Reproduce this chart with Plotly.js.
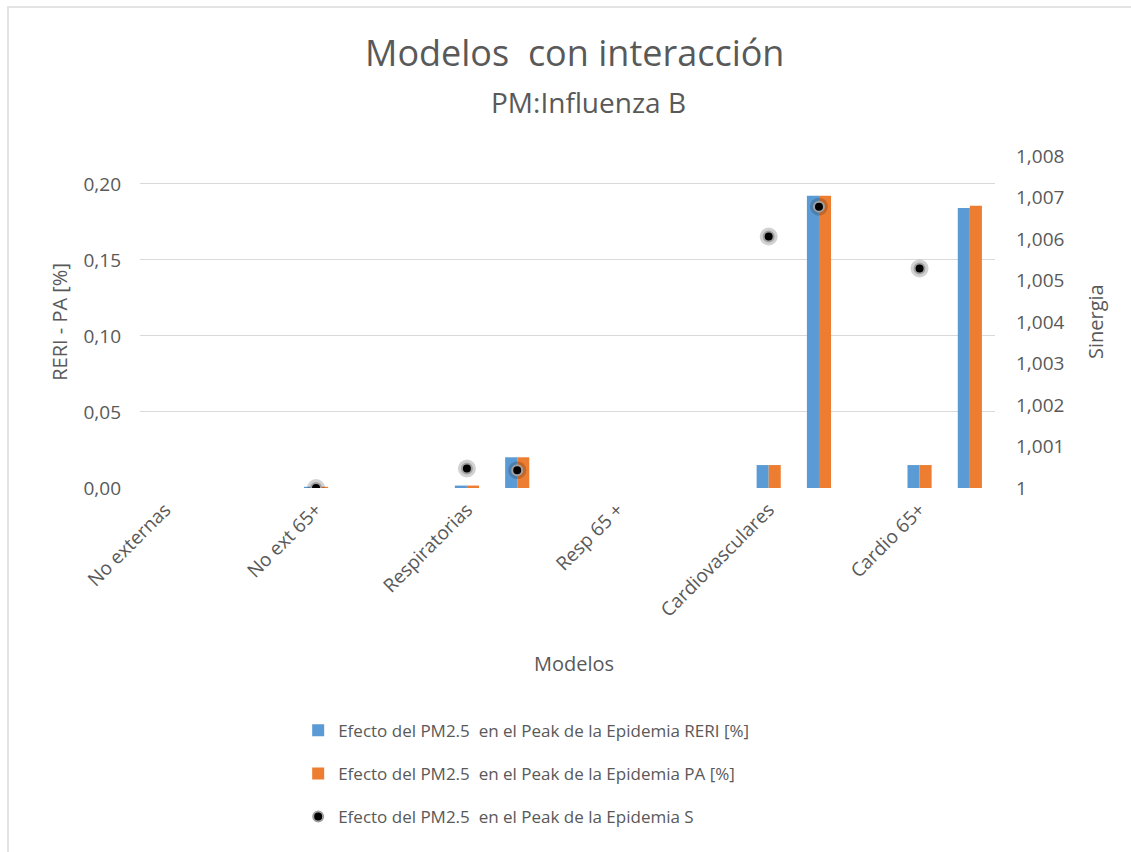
<!DOCTYPE html>
<html>
<head>
<meta charset="utf-8">
<script src="https://cdn.plot.ly/plotly-3.0.1.min.js"></script>
<style>
    html, body { margin: 0; background: #fff; overflow: hidden; }
    #chart { width: 1131px; height: 852px; }
</style>
</head>
<body>
<div id="chart"></div>
<script>
// 17 filas de la tabla de Excel, una etiqueta cada 3 filas
const modelos = ["No externas", "No ext 65+", "Respiratorias", "Resp 65 +", "Cardiovasculares", "Cardio 65+"];
const filasPorModelo = 3;
const nFilas = 17;

const reri = [null, null, null, 0.0008, null, null, 0.0016, 0.0202, null, null, null, null, 0.0151, 0.1922, null, 0.0151, 0.1842];
const pa = [null, null, null, 0.0008, null, null, 0.0016, 0.0202, null, null, null, null, 0.0151, 0.1922, null, 0.0151, 0.1857];
const sinergia = [null, null, null, 1.0000, null, null, 1.00047, 1.00043, null, null, null, null, 1.00606, 1.00678, null, 1.00529, null];

const nombreReri = "Efecto del PM2.5  en el Peak de la Epidemia RERI [%]";
const nombrePa = "Efecto del PM2.5  en el Peak de la Epidemia PA [%]";
const nombreS = "Efecto del PM2.5  en el Peak de la Epidemia S";

const gris = "#595959";
const fuente = "'Open Sans', sans-serif";

displayChart();

function displayChart() {
    const filas = Array.from({ length: nFilas }, (_, i) => i);
    const posEtiquetas = modelos.map((_, i) => i * filasPorModelo);

    const chartData = [
        {
            x: filas,
            y: reri,
            type: "bar",
            name: nombreReri,
            legendgroup: "reri",
            marker: { color: "#5B9BD5" },
        },
        {
            x: filas,
            y: pa,
            type: "bar",
            name: nombrePa,
            legendgroup: "pa",
            marker: { color: "#ED7D31" },
        },
        {
            // halo gris detras de los puntos
            x: filas,
            y: sinergia,
            yaxis: "y2",
            type: "scatter",
            mode: "markers",
            legendgroup: "s",
            showlegend: false,
            hoverinfo: "skip",
            marker: { size: 18, color: "rgba(0,0,0,0.18)", line: { width: 0 } },
        },
        {
            x: filas,
            y: sinergia,
            yaxis: "y2",
            type: "scatter",
            mode: "markers",
            name: nombreS,
            legendgroup: "s",
            marker: { size: 10, color: "#000", line: { color: "#a0a0a0", width: 2 } },
        },
    ];

    const layout = {
        width: 1131,
        height: 852,
        separators: ",.",
        paper_bgcolor: "#fff",
        plot_bgcolor: "#fff",
        font: { family: fuente, color: gris, size: 19 },
        margin: { l: 140, r: 136, t: 156, b: 364 },
        barmode: "group",
        bargap: 0.52,
        bargroupgap: 0,
        xaxis: {
            range: [-0.5, nFilas - 0.5],
            tickvals: posEtiquetas,
            ticktext: modelos,
            tickangle: -45,
            ticks: "",
            ticklabelstandoff: 6,
            tickfont: { size: 19, color: gris },
            showgrid: false,
            zeroline: false,
            showline: false,
        },
        yaxis: {
            range: [0, 0.2184],
            tick0: 0,
            dtick: 0.05,
            tickformat: ".2f",
            ticks: "",
            ticklabelstandoff: 18,
            tickfont: { size: 19, color: gris },
            gridcolor: "#d9d9d9",
            gridwidth: 1,
            zeroline: false,
            showline: false,
        },
        yaxis2: {
            overlaying: "y",
            side: "right",
            range: [1, 1.008],
            tick0: 1,
            dtick: 0.001,
            tickformat: ".3~f",
            ticks: "",
            ticklabelstandoff: 20,
            tickfont: { size: 19, color: gris },
            showgrid: false,
            zeroline: false,
            showline: false,
        },
        legend: {
            x: 0.185,
            xanchor: "left",
            y: -0.677,
            yanchor: "top",
            orientation: "v",
            traceorder: "grouped",
            tracegroupgap: 18,
            font: { size: 17, color: gris },
            bgcolor: "rgba(0,0,0,0)",
        },
        // borde del area del grafico (solo arriba e izquierda son visibles)
        shapes: [
            {
                type: "path",
                xref: "paper", yref: "paper",
                path: "M -0.1544,-1.2 L -0.1544,1.4488 L 1.3,1.4488",
                line: { color: "#e3e3e3", width: 2 },
            },
        ],
        annotations: [
            {
                text: "Modelos  con interacción",
                xref: "paper", yref: "paper",
                x: 0.508, y: 1.313,
                xanchor: "center", yanchor: "middle",
                showarrow: false,
                font: { size: 36, color: gris },
            },
            {
                text: "PM:Influenza B",
                xref: "paper", yref: "paper",
                x: 0.524, y: 1.163,
                xanchor: "center", yanchor: "middle",
                showarrow: false,
                font: { size: 28, color: gris },
            },
            {
                text: "Modelos",
                xref: "paper", yref: "paper",
                x: 0.508, y: -0.53,
                xanchor: "center", yanchor: "middle",
                showarrow: false,
                font: { size: 20, color: gris },
            },
            {
                text: "RERI - PA [%]",
                xref: "paper", yref: "paper",
                x: -0.095, y: 0.5,
                xanchor: "center", yanchor: "middle",
                textangle: -90,
                showarrow: false,
                font: { size: 20, color: gris },
            },
            {
                text: "Sinergia",
                xref: "paper", yref: "paper",
                x: 1.117, y: 0.5,
                xanchor: "center", yanchor: "middle",
                textangle: -90,
                showarrow: false,
                font: { size: 20, color: gris },
            },
        ],
    };

    const chartDiv = document.getElementById("chart");

    Plotly.newPlot(chartDiv, chartData, layout, { staticPlot: true });
}
</script>
</body>
</html>
